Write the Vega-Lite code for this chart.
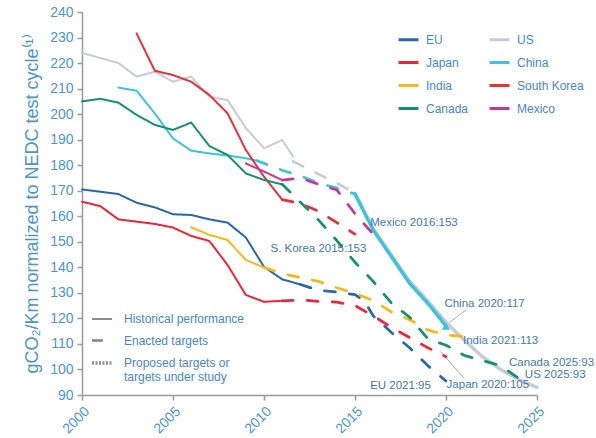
{
  "$schema": "https://vega.github.io/schema/vega-lite/v6.json",
  "width": 455,
  "height": 383,
  "autosize": {"type": "none"},
  "padding": {"left": 82, "top": 12, "right": 59, "bottom": 43},
  "background": "white",
  "config": {
    "view": {"stroke": null},
    "font": "Liberation Sans",
    "axis": {
      "grid": false,
      "domainColor": "#9a9a9a",
      "domainWidth": 1.5,
      "tickColor": "#9a9a9a",
      "tickWidth": 1.5,
      "tickSize": 5,
      "labelColor": "#4f93c9",
      "labelFontSize": 14,
      "labelPadding": 4,
      "labelOverlap": false,
      "titleColor": "#4f93c9",
      "titleFontWeight": "normal"
    },
    "legend": {"labelColor": "#4a86c0", "labelFontSize": 12, "padding": 0}
  },
  "datasets": {
    "lines": [
      {"country": "EU", "style": "Historical", "year": 2000, "value": 170.5},
      {"country": "EU", "style": "Historical", "year": 2001, "value": 169.6},
      {"country": "EU", "style": "Historical", "year": 2002, "value": 168.7},
      {"country": "EU", "style": "Historical", "year": 2003, "value": 165.3},
      {"country": "EU", "style": "Historical", "year": 2004, "value": 163.5},
      {"country": "EU", "style": "Historical", "year": 2005, "value": 160.8},
      {"country": "EU", "style": "Historical", "year": 2006, "value": 160.5},
      {"country": "EU", "style": "Historical", "year": 2007, "value": 158.8},
      {"country": "EU", "style": "Historical", "year": 2008, "value": 157.5},
      {"country": "EU", "style": "Historical", "year": 2009, "value": 151.7},
      {"country": "EU", "style": "Historical", "year": 2010, "value": 140.2},
      {"country": "EU", "style": "Historical", "year": 2011, "value": 135.3},
      {"country": "EU", "style": "Historical", "year": 2012, "value": 133.3},
      {"country": "EU", "style": "Enacted", "year": 2012, "value": 133.3},
      {"country": "EU", "style": "Enacted", "year": 2013, "value": 131},
      {"country": "EU", "style": "Enacted", "year": 2014, "value": 130.3},
      {"country": "EU", "style": "Enacted", "year": 2015, "value": 129.3},
      {"country": "EU", "style": "Enacted", "year": 2015.5, "value": 127},
      {"country": "EU", "style": "Enacted", "year": 2016, "value": 121},
      {"country": "EU", "style": "Enacted", "year": 2017, "value": 114.5},
      {"country": "EU", "style": "Enacted", "year": 2018, "value": 108.5},
      {"country": "EU", "style": "Enacted", "year": 2019, "value": 101.5},
      {"country": "EU", "style": "Enacted", "year": 2020, "value": 95.5},

      {"country": "US", "style": "Historical", "year": 2000, "value": 224},
      {"country": "US", "style": "Historical", "year": 2001, "value": 222},
      {"country": "US", "style": "Historical", "year": 2002, "value": 220},
      {"country": "US", "style": "Historical", "year": 2003, "value": 214.7},
      {"country": "US", "style": "Historical", "year": 2004, "value": 216.6},
      {"country": "US", "style": "Historical", "year": 2005, "value": 212.7},
      {"country": "US", "style": "Historical", "year": 2006, "value": 214.7},
      {"country": "US", "style": "Historical", "year": 2007, "value": 206.8},
      {"country": "US", "style": "Historical", "year": 2008, "value": 205.5},
      {"country": "US", "style": "Historical", "year": 2009, "value": 194.6},
      {"country": "US", "style": "Historical", "year": 2010, "value": 186.6},
      {"country": "US", "style": "Historical", "year": 2011, "value": 189.9},
      {"country": "US", "style": "Historical", "year": 2011.6, "value": 183.3},
      {"country": "US", "style": "Enacted", "year": 2011.6, "value": 181.5},
      {"country": "US", "style": "Enacted", "year": 2013, "value": 176.5},
      {"country": "US", "style": "Enacted", "year": 2014, "value": 173},
      {"country": "US", "style": "Enacted", "year": 2015, "value": 169},
      {"country": "US", "style": "Proposed", "year": 2015, "value": 169},
      {"country": "US", "style": "Proposed", "year": 2016, "value": 155.2},
      {"country": "US", "style": "Proposed", "year": 2017, "value": 144.8},
      {"country": "US", "style": "Proposed", "year": 2018, "value": 134.6},
      {"country": "US", "style": "Proposed", "year": 2019, "value": 126.8},
      {"country": "US", "style": "Proposed", "year": 2020, "value": 118.5},
      {"country": "US", "style": "Proposed", "year": 2021, "value": 111.5},
      {"country": "US", "style": "Proposed", "year": 2022, "value": 105},
      {"country": "US", "style": "Proposed", "year": 2023, "value": 100},
      {"country": "US", "style": "Proposed", "year": 2024, "value": 96},
      {"country": "US", "style": "Proposed", "year": 2025, "value": 93},

      {"country": "Japan", "style": "Historical", "year": 2000, "value": 165.7},
      {"country": "Japan", "style": "Historical", "year": 2001, "value": 164},
      {"country": "Japan", "style": "Historical", "year": 2002, "value": 158.8},
      {"country": "Japan", "style": "Historical", "year": 2003, "value": 157.9},
      {"country": "Japan", "style": "Historical", "year": 2004, "value": 157},
      {"country": "Japan", "style": "Historical", "year": 2005, "value": 155.6},
      {"country": "Japan", "style": "Historical", "year": 2006, "value": 152.3},
      {"country": "Japan", "style": "Historical", "year": 2007, "value": 150.3},
      {"country": "Japan", "style": "Historical", "year": 2008, "value": 140.9},
      {"country": "Japan", "style": "Historical", "year": 2009, "value": 129.2},
      {"country": "Japan", "style": "Historical", "year": 2010, "value": 126.5},
      {"country": "Japan", "style": "Historical", "year": 2011, "value": 126.9},
      {"country": "Japan", "style": "Enacted", "year": 2011, "value": 126.9},
      {"country": "Japan", "style": "Enacted", "year": 2012, "value": 127.2},
      {"country": "Japan", "style": "Enacted", "year": 2013, "value": 126.7},
      {"country": "Japan", "style": "Enacted", "year": 2014, "value": 126.4},
      {"country": "Japan", "style": "Enacted", "year": 2015, "value": 125},
      {"country": "Japan", "style": "Enacted", "year": 2016, "value": 121},
      {"country": "Japan", "style": "Enacted", "year": 2017, "value": 116.5},
      {"country": "Japan", "style": "Enacted", "year": 2018, "value": 112.5},
      {"country": "Japan", "style": "Enacted", "year": 2019, "value": 108.5},
      {"country": "Japan", "style": "Enacted", "year": 2020, "value": 105},

      {"country": "China", "style": "Historical", "year": 2002, "value": 210.4},
      {"country": "China", "style": "Historical", "year": 2003, "value": 209.2},
      {"country": "China", "style": "Historical", "year": 2004, "value": 200.3},
      {"country": "China", "style": "Historical", "year": 2005, "value": 190.5},
      {"country": "China", "style": "Historical", "year": 2006, "value": 185.7},
      {"country": "China", "style": "Historical", "year": 2007, "value": 184.6},
      {"country": "China", "style": "Historical", "year": 2008, "value": 183.8},
      {"country": "China", "style": "Historical", "year": 2009, "value": 182.7},
      {"country": "China", "style": "Historical", "year": 2009.6, "value": 181.8},
      {"country": "China", "style": "Enacted", "year": 2009.6, "value": 181.8},
      {"country": "China", "style": "Enacted", "year": 2011, "value": 178},
      {"country": "China", "style": "Enacted", "year": 2012, "value": 175.8},
      {"country": "China", "style": "Enacted", "year": 2013, "value": 173},
      {"country": "China", "style": "Enacted", "year": 2014, "value": 171},
      {"country": "China", "style": "Enacted", "year": 2015, "value": 168.7},
      {"country": "China", "style": "Proposed", "year": 2015, "value": 168.7},
      {"country": "China", "style": "Proposed", "year": 2016, "value": 154.6},
      {"country": "China", "style": "Proposed", "year": 2017, "value": 144.2},
      {"country": "China", "style": "Proposed", "year": 2018, "value": 133.7},
      {"country": "China", "style": "Proposed", "year": 2019, "value": 125.9},
      {"country": "China", "style": "Proposed", "year": 2020, "value": 117},

      {"country": "India", "style": "Historical", "year": 2006, "value": 155.7},
      {"country": "India", "style": "Historical", "year": 2007, "value": 152.7},
      {"country": "India", "style": "Historical", "year": 2008, "value": 150.7},
      {"country": "India", "style": "Historical", "year": 2009, "value": 142.9},
      {"country": "India", "style": "Historical", "year": 2010, "value": 140},
      {"country": "India", "style": "Enacted", "year": 2010, "value": 140},
      {"country": "India", "style": "Enacted", "year": 2011, "value": 137.5},
      {"country": "India", "style": "Enacted", "year": 2012, "value": 136},
      {"country": "India", "style": "Enacted", "year": 2013, "value": 134.5},
      {"country": "India", "style": "Enacted", "year": 2014, "value": 132},
      {"country": "India", "style": "Enacted", "year": 2015, "value": 129.8},
      {"country": "India", "style": "Enacted", "year": 2016, "value": 127},
      {"country": "India", "style": "Enacted", "year": 2017, "value": 122.5},
      {"country": "India", "style": "Enacted", "year": 2018, "value": 119.5},
      {"country": "India", "style": "Enacted", "year": 2019, "value": 115.5},
      {"country": "India", "style": "Enacted", "year": 2020, "value": 113.5},
      {"country": "India", "style": "Enacted", "year": 2021, "value": 113},

      {"country": "South Korea", "style": "Historical", "year": 2003, "value": 231.6},
      {"country": "South Korea", "style": "Historical", "year": 2004, "value": 217},
      {"country": "South Korea", "style": "Historical", "year": 2005, "value": 215.3},
      {"country": "South Korea", "style": "Historical", "year": 2006, "value": 212.7},
      {"country": "South Korea", "style": "Historical", "year": 2007, "value": 207.5},
      {"country": "South Korea", "style": "Historical", "year": 2008, "value": 200.3},
      {"country": "South Korea", "style": "Historical", "year": 2009, "value": 186},
      {"country": "South Korea", "style": "Historical", "year": 2010, "value": 175.5},
      {"country": "South Korea", "style": "Historical", "year": 2011, "value": 166.5},
      {"country": "South Korea", "style": "Enacted", "year": 2011, "value": 166.5},
      {"country": "South Korea", "style": "Enacted", "year": 2012, "value": 165},
      {"country": "South Korea", "style": "Enacted", "year": 2013, "value": 162},
      {"country": "South Korea", "style": "Enacted", "year": 2014, "value": 157.5},
      {"country": "South Korea", "style": "Enacted", "year": 2015, "value": 153},

      {"country": "Canada", "style": "Historical", "year": 2000, "value": 205},
      {"country": "Canada", "style": "Historical", "year": 2001, "value": 206},
      {"country": "Canada", "style": "Historical", "year": 2002, "value": 204.5},
      {"country": "Canada", "style": "Historical", "year": 2003, "value": 199.7},
      {"country": "Canada", "style": "Historical", "year": 2004, "value": 195.8},
      {"country": "Canada", "style": "Historical", "year": 2005, "value": 193.8},
      {"country": "Canada", "style": "Historical", "year": 2006, "value": 196.7},
      {"country": "Canada", "style": "Historical", "year": 2007, "value": 187.5},
      {"country": "Canada", "style": "Historical", "year": 2008, "value": 184},
      {"country": "Canada", "style": "Historical", "year": 2009, "value": 176.8},
      {"country": "Canada", "style": "Historical", "year": 2010, "value": 174.2},
      {"country": "Canada", "style": "Historical", "year": 2011, "value": 172.5},
      {"country": "Canada", "style": "Enacted", "year": 2011, "value": 172.5},
      {"country": "Canada", "style": "Enacted", "year": 2012, "value": 165.5},
      {"country": "Canada", "style": "Enacted", "year": 2013, "value": 158.5},
      {"country": "Canada", "style": "Enacted", "year": 2014, "value": 150.5},
      {"country": "Canada", "style": "Enacted", "year": 2015, "value": 142},
      {"country": "Canada", "style": "Enacted", "year": 2016, "value": 134.5},
      {"country": "Canada", "style": "Enacted", "year": 2017, "value": 126},
      {"country": "Canada", "style": "Enacted", "year": 2018, "value": 120.5},
      {"country": "Canada", "style": "Enacted", "year": 2019, "value": 112},
      {"country": "Canada", "style": "Enacted", "year": 2020, "value": 109.5},
      {"country": "Canada", "style": "Enacted", "year": 2021, "value": 105.5},
      {"country": "Canada", "style": "Enacted", "year": 2022, "value": 103.5},
      {"country": "Canada", "style": "Enacted", "year": 2023, "value": 101.5},
      {"country": "Canada", "style": "Enacted", "year": 2024, "value": 96.5},

      {"country": "Mexico", "style": "Historical", "year": 2009, "value": 180.7},
      {"country": "Mexico", "style": "Historical", "year": 2010, "value": 177.5},
      {"country": "Mexico", "style": "Historical", "year": 2011, "value": 174.2},
      {"country": "Mexico", "style": "Enacted", "year": 2011, "value": 174.2},
      {"country": "Mexico", "style": "Enacted", "year": 2012, "value": 175},
      {"country": "Mexico", "style": "Enacted", "year": 2013, "value": 172.5},
      {"country": "Mexico", "style": "Enacted", "year": 2014, "value": 170.3},
      {"country": "Mexico", "style": "Enacted", "year": 2015, "value": 161},
      {"country": "Mexico", "style": "Enacted", "year": 2016, "value": 153}
    ],
    "notes": [
      {"label": "Mexico 2016:153", "year": 2018.24, "value": 157.4},
      {"label": "S. Korea 2015:153", "year": 2012.99, "value": 147.2},
      {"label": "China 2020:117", "year": 2022.12, "value": 125.6},
      {"label": "India 2021:113", "year": 2023.0, "value": 111.3},
      {"label": "Canada 2025:93", "year": 2025.8, "value": 102.4},
      {"label": "US 2025:93", "year": 2026.0, "value": 97.8},
      {"label": "Japan 2020:105", "year": 2022.3, "value": 93.9},
      {"label": "EU 2021:95", "year": 2017.5, "value": 93.5}
    ],
    "leaders": [
      {"year": 2020.2, "value": 118.5, "year2": 2021.1, "value2": 123.3},
      {"year": 2019.7, "value": 107, "year2": 2021.0, "value2": 96.5}
    ],
    "markers": [
      {"country": "China", "year": 2020, "value": 117}
    ]
  },
  "encoding": {
    "x": {
      "field": "year", "type": "quantitative",
      "scale": {"domain": [2000, 2025], "nice": false, "zero": false},
      "axis": {"values": [2000, 2005, 2010, 2015, 2020, 2025], "format": "d", "labelAngle": -45, "title": null}
    },
    "y": {
      "field": "value", "type": "quantitative",
      "scale": {"domain": [90, 240], "nice": false, "zero": false},
      "axis": {
        "values": [90, 100, 110, 120, 130, 140, 150, 160, 170, 180, 190, 200, 210, 220, 230, 240],
        "title": "gCO₂/Km normalized to NEDC test cycle⁽¹⁾",
        "titleFontSize": 18,
        "titlePadding": 8
      }
    }
  },
  "layer": [
    {
      "data": {"name": "leaders"},
      "mark": {"type": "rule", "color": "#a8a8a8", "strokeWidth": 1},
      "encoding": {
        "x2": {"field": "year2"},
        "y2": {"field": "value2"}
      }
    },
    {
      "data": {"name": "lines"},
      "mark": {"type": "line", "strokeCap": "round", "strokeJoin": "round"},
      "encoding": {
        "color": {
          "field": "country", "type": "nominal",
          "scale": {
            "domain": ["EU", "Japan", "India", "Canada", "US", "China", "South Korea", "Mexico"],
            "range": ["#2b66a8", "#e8283a", "#f4b81e", "#17906c", "#c6ccd4", "#3ec3da", "#e2323f", "#c23a98"]
          },
          "legend": {
            "orient": "none", "legendX": 315, "legendY": 16, "columns": 2,
            "title": null, "symbolType": "stroke", "symbolSize": 400, "symbolStrokeWidth": 3,
            "labelOffset": 6, "columnPadding": 14, "rowPadding": 5
          }
        },
        "strokeDash": {
          "field": "style", "type": "nominal",
          "scale": {"domain": ["Historical", "Enacted", "Proposed"], "range": [[1, 0], [11, 14], [2, 1.5]]},
          "legend": {
            "orient": "none", "legendX": 8, "legendY": 296, "title": null,
            "symbolType": "stroke", "symbolSize": 400, "symbolStrokeWidth": 2, "symbolStrokeColor": "#8c8c8c",
            "labelOffset": 10, "rowPadding": 4,
            "labelExpr": "datum.label == 'Historical' ? 'Historical performance' : datum.label == 'Enacted' ? 'Enacted targets' : ['Proposed targets or', 'targets under study']"
          }
        },
        "strokeWidth": {
          "field": "style", "type": "nominal",
          "scale": {"domain": ["Historical", "Enacted", "Proposed"], "range": [2, 3.5, 1]},
          "legend": null
        }
      }
    },
    {
      "data": {"name": "markers"},
      "mark": {"type": "point", "shape": "triangle-up", "filled": true, "size": 70, "opacity": 1, "color": "#3ec3da"}
    },
    {
      "data": {"name": "notes"},
      "mark": {"type": "text", "fontSize": 11.5, "color": "#4678aa", "align": "center", "baseline": "middle"},
      "encoding": {
        "text": {"field": "label"}
      }
    }
  ]
}
